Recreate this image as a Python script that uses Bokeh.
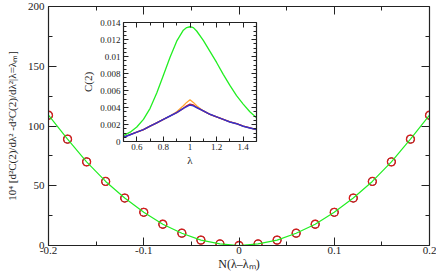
from bokeh.plotting import figure
from bokeh.models import LinearAxis, FixedTicker, Range1d
from bokeh.layouts import column
from bokeh.embed import file_html
from bokeh.resources import INLINE

# ---------------- data ----------------
# main panel
n_shift = [-0.20, -0.18, -0.16, -0.14, -0.12, -0.10, -0.08, -0.06, -0.04, -0.02, 0.0,
           0.02, 0.04, 0.06, 0.08, 0.10, 0.12, 0.14, 0.16, 0.18, 0.20]
curv_diff = [109, 89, 70, 53.6, 39.7, 27.8, 17.8, 10.3, 4.5, 1.3, 0.0,
             1.3, 4.5, 10.3, 17.8, 27.8, 39.7, 53.6, 70, 89, 109]
main_xticks = [-0.2, -0.1, 0.0, 0.1, 0.2]
main_xlabels = ["-0.2", "-0.1", "0", "0.1", "0.2"]
main_xminor = [-0.15, -0.05, 0.05, 0.15]
main_yticks = [0, 50, 100, 150, 200]
main_yminor = [25, 75, 125, 175]

# inset panel
lam = [0.50, 0.55, 0.60, 0.65, 0.70, 0.75, 0.80, 0.85, 0.90, 0.95, 0.975, 1.00,
       1.025, 1.05, 1.10, 1.15, 1.20, 1.25, 1.30, 1.35, 1.40, 1.45, 1.50]
c2_green = [0.0007, 0.0011, 0.0017, 0.0026, 0.0039, 0.0057, 0.0078, 0.0099, 0.0118, 0.0131, 0.0134, 0.0135,
            0.0134, 0.0130, 0.0119, 0.0106, 0.0093, 0.0079, 0.0066, 0.0054, 0.0044, 0.0035, 0.0028]
c2_orange = [0.0005, 0.0008, 0.0011, 0.0014, 0.0018, 0.0022, 0.0026, 0.0030, 0.0035, 0.0042, 0.0046, 0.0049,
             0.0046, 0.0042, 0.0036, 0.0032, 0.0029, 0.0026, 0.0023, 0.0021, 0.0018, 0.0016, 0.0014]
c2_red = [0.0005, 0.0008, 0.0011, 0.0014, 0.0018, 0.0022, 0.0026, 0.0030, 0.0034, 0.0039, 0.0042, 0.0044,
          0.0043, 0.0040, 0.0036, 0.0032, 0.0029, 0.0026, 0.0023, 0.0021, 0.0018, 0.0016, 0.0014]
c2_blue = [0.0005, 0.0008, 0.0011, 0.0014, 0.0018, 0.0022, 0.0026, 0.0030, 0.0034, 0.0039, 0.0041, 0.0043,
           0.0042, 0.0040, 0.0036, 0.0032, 0.0029, 0.0026, 0.0023, 0.0021, 0.0018, 0.0016, 0.0014]
inset_xticks = [0.6, 0.8, 1.0, 1.2, 1.4]
inset_xlabels = ["0.6", "0.8", "1", "1.2", "1.4"]
inset_xminor = [0.5, 0.7, 0.9, 1.1, 1.3, 1.5]
inset_yticks = [0.0, 0.002, 0.004, 0.006, 0.008, 0.010, 0.012, 0.014]
inset_ylabels = ["0", "0.002", "0.004", "0.006", "0.008", "0.01", "0.012", "0.014"]
inset_yminor = [0.0005, 0.001, 0.0015, 0.0025, 0.003, 0.0035, 0.0045, 0.005, 0.0055,
                0.0065, 0.007, 0.0075, 0.0085, 0.009, 0.0095, 0.0105, 0.011, 0.0115,
                0.0125, 0.013, 0.0135]

FONT = "Liberation Serif"
AXC = "#222222"


def style_axis(ax, tin, tmin, font_size, standoff, show_labels=True):
    ax.axis_line_color = AXC
    ax.axis_line_width = 1.2
    ax.major_tick_line_color = AXC
    ax.minor_tick_line_color = AXC
    ax.major_tick_in = tin
    ax.major_tick_out = 0
    ax.minor_tick_in = tmin
    ax.minor_tick_out = 0
    ax.major_label_text_font = FONT
    ax.major_label_text_color = "#222222"
    ax.axis_label_text_font = FONT
    ax.axis_label_text_font_style = "normal"
    ax.axis_label_text_color = "#222222"
    if show_labels:
        ax.major_label_text_font_size = font_size
        ax.major_label_standoff = standoff
    else:
        ax.major_label_text_font_size = "0px"
        ax.major_label_text_color = None
        ax.major_label_standoff = 0


# ---------------- main figure ----------------
p = figure(width=436, height=273, output_backend="svg", toolbar_location=None,
           x_range=Range1d(-0.2, 0.2), y_range=Range1d(0, 200),
           min_border_left=47, min_border_right=7, min_border_top=6, min_border_bottom=28,
           x_axis_label="N(λ–λₘ)", y_axis_label="10⁴ [d²C(2)/dλ² -d²C(2)/dλ²|λ=λₘ]")
p.grid.visible = False
p.outline_line_color = None
p.background_fill_color = "white"

p.xaxis.ticker = FixedTicker(ticks=main_xticks, minor_ticks=main_xminor)
p.yaxis.ticker = FixedTicker(ticks=main_yticks, minor_ticks=main_yminor)
p.xaxis.major_label_overrides = {t: s for t, s in zip(main_xticks, main_xlabels)}
for ax in p.xaxis:
    style_axis(ax, 8, 4, "11px", 1)
    ax.axis_label_text_font_size = "12px"
    ax.axis_label_standoff = 0
for ax in p.yaxis:
    style_axis(ax, 8, 4, "11px", 4)
    ax.axis_label_text_font_size = "11px"
    ax.axis_label_standoff = 7

top_ax = LinearAxis(ticker=FixedTicker(ticks=main_xticks, minor_ticks=main_xminor))
style_axis(top_ax, 8, 4, "11px", 0, show_labels=False)
p.add_layout(top_ax, "above")
right_ax = LinearAxis(ticker=FixedTicker(ticks=main_yticks, minor_ticks=main_yminor))
style_axis(right_ax, 8, 4, "11px", 0, show_labels=False)
p.add_layout(right_ax, "right")

p.scatter(n_shift, curv_diff, marker="circle", size=8, fill_color=None,
          line_color="#333333", line_width=1.0)
p.scatter(n_shift, curv_diff, marker="circle", size=8, fill_color=None,
          line_color="#dd1a1a", line_width=1.3)
p.line(n_shift, curv_diff, line_color="#22ee22", line_width=1.2)

# ---------------- inset figure ----------------
q = figure(frame_width=133, frame_height=119, output_backend="svg", toolbar_location=None,
           x_range=Range1d(0.5, 1.5), y_range=Range1d(0, 0.014),
           min_border_left=48, min_border_right=4, min_border_top=3, min_border_bottom=26,
           x_axis_label="λ", y_axis_label="C(2)")
q.grid.visible = False
q.outline_line_color = None
q.background_fill_alpha = 0
q.border_fill_alpha = 0

q.xaxis.ticker = FixedTicker(ticks=inset_xticks, minor_ticks=inset_xminor)
q.yaxis.ticker = FixedTicker(ticks=inset_yticks, minor_ticks=inset_yminor)
q.xaxis.major_label_overrides = {t: s for t, s in zip(inset_xticks, inset_xlabels)}
q.yaxis.major_label_overrides = {t: s for t, s in zip(inset_yticks, inset_ylabels)}
for ax in q.xaxis:
    style_axis(ax, 5, 3, "9px", 2)
    ax.axis_label_text_font_size = "11px"
    ax.axis_label_standoff = 1
for ax in q.yaxis:
    style_axis(ax, 5, 3, "9px", 3)
    ax.axis_label_text_font_size = "11px"
    ax.axis_label_standoff = 3

qt = LinearAxis(ticker=FixedTicker(ticks=inset_xticks, minor_ticks=inset_xminor))
style_axis(qt, 5, 3, "9px", 0, show_labels=False)
q.add_layout(qt, "above")
qr = LinearAxis(ticker=FixedTicker(ticks=inset_yticks, minor_ticks=inset_yminor))
style_axis(qr, 5, 3, "9px", 0, show_labels=False)
q.add_layout(qr, "right")

q.line(lam, c2_green, line_color="#22ee22", line_width=1.3)
q.line(lam, c2_orange, line_color="#ffa530", line_width=1.3)
q.line(lam, c2_red, line_color="#dd1a1a", line_width=1.3)
q.line(lam, c2_blue, line_color="#3333cc", line_width=1.5)

q.styles = {"position": "absolute", "left": "75px", "top": "19px", "z-index": "2"}

layout = column(p, q)
open("out.html", "w").write(file_html(layout, INLINE))
